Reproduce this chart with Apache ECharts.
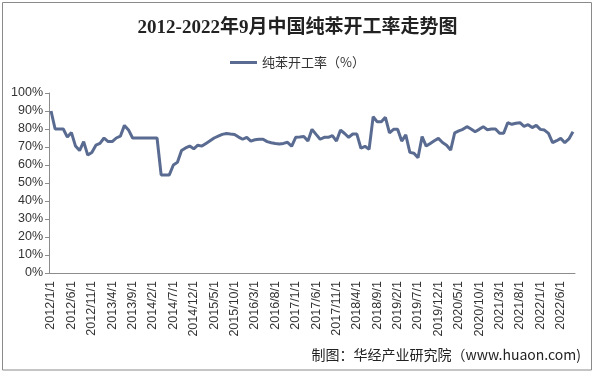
<!DOCTYPE html>
<html>
<head>
<meta charset="utf-8">
<script src="https://cdn.jsdelivr.net/npm/echarts@6/dist/echarts.min.js"></script>
<style>
html,body{margin:0;padding:0;background:#fff;}
#chart{width:595px;height:375px;}
</style>
</head>
<body>
<div id="chart"></div>
<script>
// Monthly categories 2012/1/1 .. 2022/9/1
const startYear = 2012, startMonth = 1, monthCount = 129;
const categories = [];
for (let k = 0; k < monthCount; k++) {
  const m = startMonth - 1 + k;
  categories.push((startYear + Math.floor(m / 12)) + '/' + (m % 12 + 1) + '/1');
}
const seriesName = '纯苯开工率（%）';
const rateValues = [
  90, 80, 80, 80, 75.5, 78, 70.5, 68, 73, 65.5, 67, 71,
  72, 75, 73, 73, 75, 76, 82, 79.5, 75, 75, 75, 75,
  75, 75, 75, 54.5, 54.5, 54.5, 60, 61.5, 68, 69.5, 70.5, 69,
  71, 70.5, 72, 73.5, 75, 76, 77, 77.5, 77.2, 77, 75.5, 74.3,
  75.4, 73.3, 74, 74.3, 74.3, 73, 72.4, 72, 71.7, 72, 72.6, 70.4,
  75.4, 75.5, 75.8, 73.3, 79.8, 77, 74.3, 75.4, 75.4, 76.3, 73.3, 79.4,
  77.5, 75.4, 77.2, 77.2, 69.3, 70.4, 68.7, 86.9, 84, 84, 86.5, 77.9,
  79.8, 79.8, 73.3, 76.7, 67, 66.5, 64, 75.8, 70.5, 72, 73.5, 74.8,
  72.5, 71, 68.3, 77.9, 79, 79.8, 81.3, 80, 78.5, 79.8, 81.3, 79.6,
  80, 80, 77.6, 77.6, 83.5, 82.6, 83.2, 83.5, 81.5, 82.4, 80.8, 82,
  79.8, 79.4, 77.6, 72.4, 73.5, 74.8, 72.4, 74.5, 78.5
];
const yTicks = { min: 0, max: 100, interval: 10 };
const titleText = '2012-2022年9月中国纯苯开工率走势图';
const sourceText = '制图：华经产业研究院（www.huaon.com)';

const chart = echarts.init(document.getElementById('chart'), null, { renderer: 'canvas' });
const txt = '#333';
const axisColor = '#8c8c8c';
chart.setOption({
  backgroundColor: '#fff',
  animation: false,
  title: {
    text: titleText,
    left: 'center',
    top: 14,
    textStyle: {
      fontFamily: '"Liberation Serif", "Noto Sans CJK SC", serif',
      fontWeight: 'bold',
      fontSize: 19,
      color: '#222'
    }
  },
  legend: {
    top: 51,
    left: 'center',
    icon: 'rect',
    itemWidth: 27,
    itemHeight: 3,
    textStyle: {
      fontFamily: '"Noto Sans CJK SC", sans-serif',
      fontSize: 13,
      color: txt
    },
    data: [seriesName]
  },
  grid: { left: 49, right: 20, top: 93, bottom: 102, containLabel: false },
  xAxis: {
    type: 'category',
    data: categories,
    boundaryGap: true,
    axisLine: { lineStyle: { color: axisColor, width: 1 } },
    axisTick: { interval: 4, length: 4, lineStyle: { color: axisColor } },
    axisLabel: {
      interval: 4,
      rotate: 90,
      margin: 8,
      fontFamily: '"Liberation Sans", Arial, sans-serif',
      fontSize: 12.5,
      color: txt
    },
    splitLine: { show: false }
  },
  yAxis: {
    type: 'value',
    min: yTicks.min,
    max: yTicks.max,
    interval: yTicks.interval,
    axisLine: { show: true, lineStyle: { color: axisColor, width: 1 } },
    axisTick: { show: true, length: 4, lineStyle: { color: axisColor } },
    axisLabel: {
      formatter: '{value}%',
      margin: 6,
      fontFamily: '"Liberation Sans", Arial, sans-serif',
      fontSize: 12.5,
      color: txt
    },
    splitLine: { show: false }
  },
  series: [{
    name: seriesName,
    type: 'line',
    data: rateValues,
    symbol: 'none',
    lineStyle: { color: '#5a6b91', width: 3 },
    itemStyle: { color: '#5a6b91' }
  }],
  graphic: [
    {
      type: 'rect',
      shape: { x: 2.5, y: 2.5, width: 589, height: 367.5 },
      style: { fill: 'none', stroke: '#8a8a8a', lineWidth: 1 },
      silent: true
    },
    {
      type: 'text',
      right: 14,
      top: 348,
      style: {
        text: sourceText,
        fontFamily: '"Noto Sans CJK SC", sans-serif',
        fontSize: 14,
        fill: '#222'
      }
    }
  ]
});
</script>
</body>
</html>
